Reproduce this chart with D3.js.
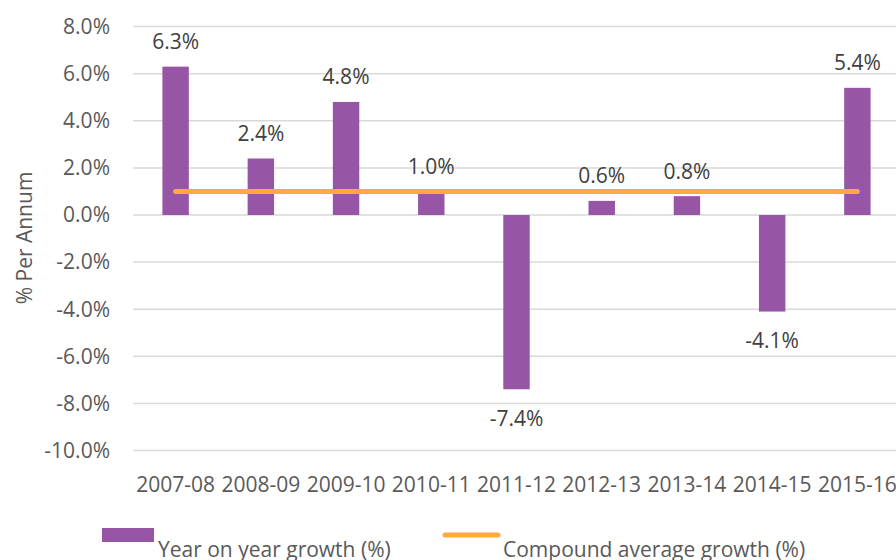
<!DOCTYPE html>
<html>
<head>
<meta charset="utf-8">
<script src="https://cdn.jsdelivr.net/npm/d3@7/dist/d3.min.js"></script>
<style>
  body { margin: 0; background: #fff; }
  svg { display: block; font-family: "Open Sans", sans-serif; }
</style>
</head>
<body>
<div id="chart"></div>
<script>
// data
var years = ["2007-08", "2008-09", "2009-10", "2010-11", "2011-12", "2012-13", "2013-14", "2014-15", "2015-16"];
var growth = [6.3, 2.4, 4.8, 1.0, -7.4, 0.6, 0.8, -4.1, 5.4];
var cagr = 1.0;
var yTicks = [8, 6, 4, 2, 0, -2, -4, -6, -8, -10];
var legendNames = ["Year on year growth (%)", "Compound average growth (%)"];

var W = 896, H = 560;
var barColor = "#9655a5", lineColor = "#ffaa3b", textColor = "#595959";
var fs = "21px";

var svg = d3.select("#chart").append("svg")
    .attr("width", W)
    .attr("height", H);

var x = d3.scaleBand().domain(years).range([133, 900]).paddingInner(0.69).paddingOuter(0.345);
var y = d3.scaleLinear().domain([-10, 8]).range([450.5, 26.6]);

// gridlines
svg.append("g").selectAll("line")
    .data(yTicks)
    .enter().append("line")
    .attr("x1", 133).attr("x2", 900)
    .attr("y1", function(d) { return y(d); })
    .attr("y2", function(d) { return y(d); })
    .style("stroke", "#d9d9d9")
    .style("stroke-width", 1.5);

// y tick labels
svg.append("g").selectAll("text")
    .data(yTicks)
    .enter().append("text")
    .attr("x", 110)
    .attr("y", function(d) { return y(d); })
    .attr("dy", "0.35em")
    .attr("text-anchor", "end")
    .style("font-size", fs)
    .style("fill", textColor)
    .text(function(d) { return d.toFixed(1) + "%"; });

// axis title
svg.append("text")
    .attr("transform", "translate(32,238) rotate(-90)")
    .attr("text-anchor", "middle")
    .style("font-size", fs)
    .style("fill", textColor)
    .text("% Per Annum");

// bars
svg.append("g").selectAll("rect")
    .data(growth)
    .enter().append("rect")
    .attr("x", function(d, i) { return x(years[i]); })
    .attr("width", x.bandwidth())
    .attr("y", function(d) { return y(Math.max(0, d)); })
    .attr("height", function(d) { return Math.abs(y(d) - y(0)); })
    .style("fill", barColor);

// compound growth line
var line = d3.line()
    .x(function(d) { return x(d) + x.bandwidth() / 2; })
    .y(function() { return y(cagr); });

svg.append("path")
    .datum(years)
    .attr("d", line)
    .style("fill", "none")
    .style("stroke", lineColor)
    .style("stroke-width", 5)
    .style("stroke-linecap", "round");

// data labels
svg.append("g").selectAll("text")
    .data(growth)
    .enter().append("text")
    .attr("x", function(d, i) { return x(years[i]) + x.bandwidth() / 2; })
    .attr("y", function(d) { return d >= 0 ? y(d) - 25 : y(d) + 29; })
    .attr("dy", "0.35em")
    .attr("text-anchor", "middle")
    .style("font-size", fs)
    .style("fill", "#404040")
    .text(function(d) { return d.toFixed(1) + "%"; });

// x labels
svg.append("g").selectAll("text")
    .data(years)
    .enter().append("text")
    .attr("x", function(d) { return x(d) + x.bandwidth() / 2; })
    .attr("y", 485)
    .attr("dy", "0.35em")
    .attr("text-anchor", "middle")
    .style("font-size", fs)
    .style("fill", textColor)
    .text(function(d) { return d; });

// legend
var lg = svg.append("g");
lg.append("rect")
    .attr("x", 102).attr("y", 528)
    .attr("width", 52).attr("height", 14)
    .style("fill", barColor);
lg.append("text")
    .attr("x", 158).attr("y", 557)
    .style("font-size", fs)
    .style("fill", textColor)
    .text(legendNames[0]);
lg.append("line")
    .attr("x1", 445).attr("x2", 498)
    .attr("y1", 535).attr("y2", 535)
    .style("stroke", lineColor)
    .style("stroke-width", 5)
    .style("stroke-linecap", "round");
lg.append("text")
    .attr("x", 503).attr("y", 557)
    .style("font-size", fs)
    .style("fill", textColor)
    .text(legendNames[1]);
</script>
</body>
</html>
